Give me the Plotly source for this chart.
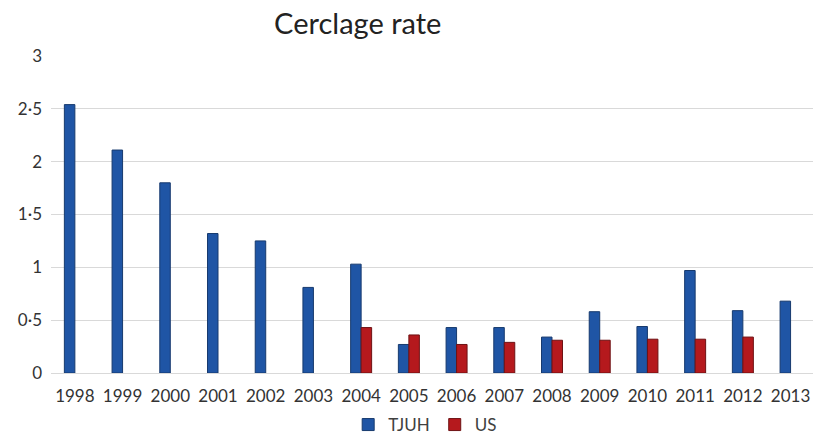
import plotly.graph_objects as go

years = ["1998", "1999", "2000", "2001", "2002", "2003", "2004", "2005",
         "2006", "2007", "2008", "2009", "2010", "2011", "2012", "2013"]
tjuh = [2.54, 2.11, 1.80, 1.32, 1.25, 0.81, 1.03, 0.27,
        0.43, 0.43, 0.34, 0.58, 0.44, 0.97, 0.59, 0.68]
us = [None, None, None, None, None, None, 0.43, 0.36,
      0.27, 0.29, 0.31, 0.31, 0.32, 0.32, 0.34, None]
y_ticks = [0, 0.5, 1, 1.5, 2, 2.5, 3]
y_tick_text = ["0", "0·5", "1", "1·5", "2", "2·5", "3"]

font_family = "Lato, 'Open Sans', sans-serif"

fig = go.Figure()
fig.add_trace(go.Bar(
    x=years, y=tjuh, name="TJUH",
    marker=dict(color="#1f55a5", line=dict(color="#173a6e", width=1)),
))
fig.add_trace(go.Bar(
    x=years, y=us, name="US",
    marker=dict(color="#b5191d", line=dict(color="#6e1214", width=1)),
))

fig.update_layout(
    width=813, height=435,
    paper_bgcolor="white", plot_bgcolor="white",
    barmode="group", bargap=0.56, bargroupgap=0,
    margin=dict(l=51, r=0, t=56, b=62, autoexpand=False),
    font=dict(family=font_family, color="#404040"),
    title=dict(text="Cerclage rate", x=0.44, xanchor="center", y=0.945,
               yanchor="middle", font=dict(size=29, color="#222222")),
    showlegend=True,
    legend=dict(orientation="h", x=0.39, xanchor="left",
                y=10 / 435, yref="container", yanchor="middle",
                font=dict(size=17, color="#404040"),
                traceorder="normal"),
    xaxis=dict(type="category", range=[-0.5, 15.47], showgrid=False,
               automargin=False, showline=False, ticks="",
               ticklabelstandoff=11,
               tickfont=dict(size=17, color="#333333"), tickangle=0),
    yaxis=dict(range=[0, 3.0], tickvals=y_ticks, ticktext=y_tick_text,
               automargin=False,
               showgrid=True, gridcolor="#d9d9d9", gridwidth=1,
               zeroline=True, zerolinecolor="#d9d9d9", zerolinewidth=1,
               showline=False, ticks="", ticklabelstandoff=8,
               tickfont=dict(size=17, color="#333333")),
)

fig.write_html("out.html")
